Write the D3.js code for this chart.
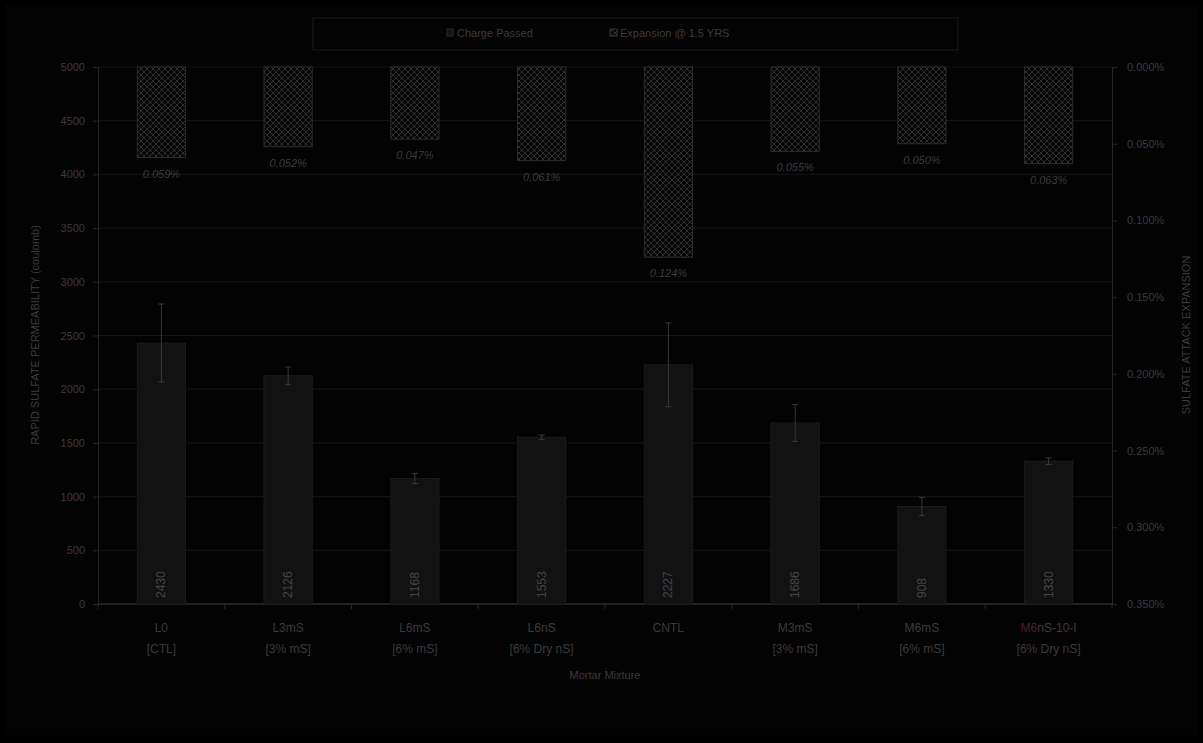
<!DOCTYPE html>
<html><head><meta charset="utf-8">
<script src="https://cdn.jsdelivr.net/npm/d3@7"></script>
<style>html,body{margin:0;padding:0;background:#000;}svg{display:block;}</style>
</head><body>
<svg id="chart" width="1203" height="743"></svg>
<script>
const categories = ["L0","L3mS","L6mS","L6nS","CNTL","M3mS","M6mS","M6nS-10-I"];
const subLabels = ["[CTL]","[3% mS]","[6% mS]","[6% Dry nS]","","[3% mS]","[6% mS]","[6% Dry nS]"];
const chargePassed = [2430,2126,1168,1553,2227,1686,908,1330];
const chargeError = [363,80,47,20,390,172,85,30];
const expansion = [0.059,0.052,0.047,0.061,0.124,0.055,0.050,0.063];
const leftTicks = [0,500,1000,1500,2000,2500,3000,3500,4000,4500,5000];
const rightTicks = [0,0.05,0.10,0.15,0.20,0.25,0.30,0.35];
const legendLabels = ["Charge Passed","Expansion @ 1.5 YRS"];

const svg = d3.select("#chart");
const W = 1203, H = 743;
const m = {l:98, r:1112, t:67, b:604};
const txt = "#3b3b3b", font = "Liberation Sans, Arial, sans-serif";
const pct = d => d.toFixed(3) + "%";

svg.append("rect").attr("x",5).attr("y",5).attr("width",W-10).attr("height",H-13).attr("fill","#030303");

const defs = svg.append("defs");
const pat = defs.append("pattern").attr("id","hatch").attr("patternUnits","userSpaceOnUse").attr("width",6).attr("height",6);
pat.append("rect").attr("width",6).attr("height",6).attr("fill","#050505");
pat.append("path").attr("d","M0,0 L6,6 M6,0 L0,6").attr("stroke","#2e2e2e").attr("stroke-width",1);

const x = d3.scaleBand().domain(categories).range([m.l,m.r]).paddingInner(0.62).paddingOuter(0.31);
const y = d3.scaleLinear().domain([0,5000]).range([m.b,m.t]);
const y2 = d3.scaleLinear().domain([0,0.35]).range([m.t,m.b]);

// gridlines
svg.append("g").selectAll("line").data(leftTicks).join("line")
  .attr("x1",m.l).attr("x2",m.r).attr("y1",d=>y(d)).attr("y2",d=>y(d))
  .attr("stroke","#131313").attr("stroke-width",1.2);

// left axis
const gl = svg.append("g").attr("transform",`translate(${m.l},0)`)
  .call(d3.axisLeft(y).tickValues(leftTicks).tickSize(5).tickPadding(8).tickFormat(d3.format("d")));
gl.select(".domain").attr("stroke","#262626");
gl.selectAll(".tick line").attr("stroke","#262626");
gl.selectAll("text").attr("fill",txt).attr("font-size",11).attr("font-family",font);

// right axis
const gr = svg.append("g").attr("transform",`translate(${m.r},0)`)
  .call(d3.axisRight(y2).tickValues(rightTicks).tickSize(5).tickPadding(10).tickFormat(pct));
gr.select(".domain").attr("stroke","#262626");
gr.selectAll(".tick line").attr("stroke","#262626");
gr.selectAll("text").attr("fill",txt).attr("font-size",11).attr("font-family",font);

// x axis
svg.append("line").attr("x1",m.l).attr("x2",m.r).attr("y1",m.b).attr("y2",m.b).attr("stroke","#2a2a2a").attr("stroke-width",1.5);
svg.append("g").selectAll("line").data(d3.range(categories.length+1)).join("line")
  .attr("x1",i=>m.l+i*(m.r-m.l)/categories.length).attr("x2",i=>m.l+i*(m.r-m.l)/categories.length)
  .attr("y1",m.b).attr("y2",m.b+5).attr("stroke","#262626");

// charge bars
svg.append("g").selectAll("rect").data(categories).join("rect")
  .attr("x",d=>x(d)).attr("width",x.bandwidth())
  .attr("y",(d,i)=>y(chargePassed[i])).attr("height",(d,i)=>y(0)-y(chargePassed[i]))
  .attr("fill","#121212").attr("stroke","#1b1b1b");

// error bars
const eg = svg.append("g").attr("stroke","#3a3a3a").attr("stroke-width",1);
categories.forEach((c,i)=>{
  const cx = x(c)+x.bandwidth()/2;
  const t = y(chargePassed[i]+chargeError[i]), b = y(chargePassed[i]-chargeError[i]);
  eg.append("line").attr("x1",cx).attr("x2",cx).attr("y1",t).attr("y2",b);
  eg.append("line").attr("x1",cx-3).attr("x2",cx+3).attr("y1",t).attr("y2",t);
  eg.append("line").attr("x1",cx-3).attr("x2",cx+3).attr("y1",b).attr("y2",b);
});

// charge labels
svg.append("g").selectAll("text").data(categories).join("text")
  .attr("transform",d=>`translate(${x(d)+x.bandwidth()/2+4},598) rotate(-90)`)
  .attr("fill","#444").attr("font-size",12).attr("font-family",font)
  .text((d,i)=>chargePassed[i]);

// expansion bars
svg.append("g").selectAll("rect").data(categories).join("rect")
  .attr("x",d=>x(d)).attr("width",x.bandwidth())
  .attr("y",y2(0)).attr("height",(d,i)=>y2(expansion[i])-y2(0))
  .attr("fill","url(#hatch)").attr("stroke","#2c2c2c");

svg.append("g").selectAll("text").data(categories).join("text")
  .attr("x",d=>x(d)+x.bandwidth()/2).attr("y",(d,i)=>y2(expansion[i])+20)
  .attr("text-anchor","middle").attr("font-style","italic")
  .attr("fill",txt).attr("font-size",11).attr("font-family",font)
  .text((d,i)=>pct(expansion[i]));

// category labels
const cl = svg.append("g").attr("font-family",font).attr("font-size",12).attr("fill",txt).attr("text-anchor","middle");
categories.forEach((c,i)=>{
  const cx = x(c)+x.bandwidth()/2;
  const t1 = cl.append("text").attr("x",cx).attr("y",632);
  if (c === "M6nS-10-I") {
    t1.append("tspan").attr("fill","#4a1f24").text("M6");
    t1.append("tspan").text("nS-10-I");
  } else t1.text(c);
  if (subLabels[i]) cl.append("text").attr("x",cx).attr("y",653).text(subLabels[i]);
});

// axis titles
svg.append("text").attr("x",605).attr("y",679).attr("text-anchor","middle")
  .attr("fill",txt).attr("font-size",11).attr("font-family",font).text("Mortar Mixture");
svg.append("text").attr("transform","translate(39,335) rotate(-90)").attr("text-anchor","middle")
  .attr("fill",txt).attr("font-size",11).attr("font-family",font).text("RAPID SULFATE PERMEABILITY (coulomb)");
svg.append("text").attr("transform","translate(1190,335) rotate(-90)").attr("text-anchor","middle")
  .attr("fill",txt).attr("font-size",11).attr("font-family",font).text("SULFATE ATTACK EXPANSION");

// legend
const lg = svg.append("g");
lg.append("rect").attr("x",313).attr("y",18).attr("width",645).attr("height",32).attr("fill","#030303").attr("stroke","#1a1a1a");
lg.append("rect").attr("x",447).attr("y",29).attr("width",6).attr("height",7).attr("fill","#141414").attr("stroke","#2a2a2a");
lg.append("text").attr("x",457).attr("y",37).attr("fill",txt).attr("font-size",11).attr("font-family",font).text(legendLabels[0]);
lg.append("rect").attr("x",610).attr("y",29).attr("width",7).attr("height",7).attr("fill","url(#hatch)").attr("stroke","#3a3a3a");
lg.append("text").attr("x",620).attr("y",37).attr("fill",txt).attr("font-size",11).attr("font-family",font).text(legendLabels[1]);
</script>
</body></html>
